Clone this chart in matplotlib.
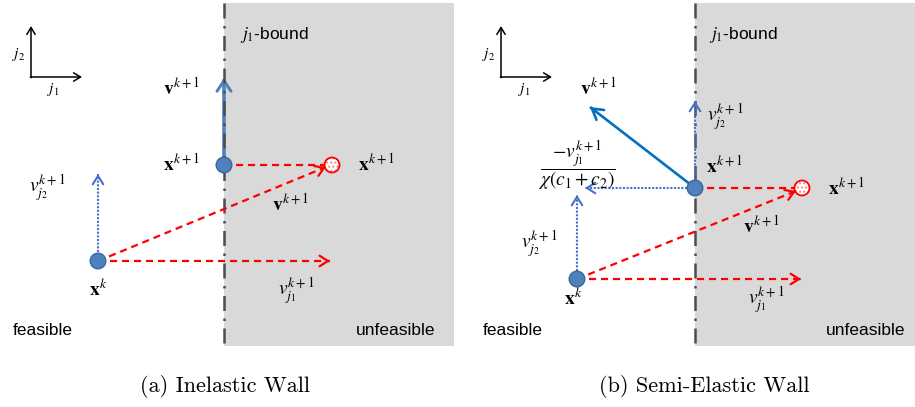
import numpy as np
import matplotlib.pyplot as plt
from matplotlib.patches import Rectangle, Circle

plt.rcParams['font.family'] = 'Liberation Sans'
plt.rcParams['mathtext.fontset'] = 'stix'
plt.rcParams['hatch.linewidth'] = 0.9

# %%
# geometry of the two sketches, in pixel units (y grows downwards)
panels = ["a", "b"]
wall_x = [224, 695]
shade_right = [454, 915]
shade_top, shade_bottom = 3, 346
icon_origin = [(31, 77), (501, 77)]
icon_len = [51, 51]
xk = [(98, 261), (577, 279)]
xk1 = [(224, 165), (695, 188)]
xk1_out = [(332, 165), (802, 188)]
vj1_tip = [(330, 261), (801, 279)]
vk1_red_tip = [(326, 167), (796, 191)]
vk1_new_tip = [(224, 78), (590, 107)]
vj2_dot = [((98, 252), (98, 174)), ((577, 271), (577, 195))]
# semi-elastic only: reflected component and kept j2 component
refl_dot = ((687, 188), (585, 188))
up_dot = ((695, 180), (695, 101))

captions = ["(a) Inelastic Wall", "(b) Semi-Elastic Wall"]
caption_x = [225, 704]
caption_y = 386

# labels: text, left x, baseline y
labels_a = [
    (r"$j_2$", 12, 58, 11),
    (r"$j_1$", 47, 93, 11),
    (r"$j_1$-bound", 240, 39, 12.5),
    (r"$\mathbf{v}^{k+1}$", 163, 95, 14),
    (r"$\mathbf{x}^{k+1}$", 163, 171, 14),
    (r"$\mathbf{x}^{k+1}$", 358, 171, 14),
    (r"$v_{j_2}^{k+1}$", 29, 193, 14),
    (r"$\mathbf{v}^{k+1}$", 272, 211, 14),
    (r"$\mathbf{x}^{k}$", 89, 296, 14),
    (r"$v_{j_1}^{k+1}$", 278, 296, 14),
    ("feasible", 13, 335, 12.5),
    ("unfeasible", 356, 335, 12.5),
]
labels_b = [
    (r"$j_2$", 482, 58, 11),
    (r"$j_1$", 518, 93, 11),
    (r"$j_1$-bound", 709, 39, 12.5),
    (r"$\mathbf{v}^{k+1}$", 580, 95, 14),
    (r"$v_{j_2}^{k+1}$", 707, 122, 14),
    (r"$\mathbf{x}^{k+1}$", 706, 173, 14),
    (r"$\mathbf{x}^{k+1}$", 828, 195, 14),
    (r"$\mathbf{v}^{k+1}$", 743, 233, 14),
    (r"$v_{j_2}^{k+1}$", 521, 249, 14),
    (r"$\mathbf{x}^{k}$", 564, 305, 14),
    (r"$v_{j_1}^{k+1}$", 748, 305, 14),
    ("feasible", 483, 335, 12.5),
    ("unfeasible", 826, 335, 12.5),
]
frac_label = r"$\dfrac{-v_{j_1}^{k+1}}{\chi(c_1+c_2)}$"
frac_pos = (577, 165)

gray = "#d9d9d9"
wall_col = "#4d4d4d"
red = "#ff0000"
pink = "#ff7a7a"
blue_dot = "#4472c4"
pt_fill = "#4f81bd"
pt_edge = "#3a679c"


def head(ax, tail, tip, color, lw, hl=0.6, hw=0.38, z=4):
    ax.annotate("", xy=tip, xytext=tail,
                arrowprops=dict(arrowstyle=f"->,head_length={hl},head_width={hw}",
                                color=color, lw=lw, shrinkA=0, shrinkB=0,
                                mutation_scale=10), zorder=z)


def styled_arrow(ax, start, end, color, lw, dashes, z=3, tip=True, **kw):
    ax.plot([start[0], end[0]], [start[1], end[1]], color=color, lw=lw,
            dashes=dashes, zorder=z, solid_capstyle="butt", dash_capstyle="butt")
    if tip:
        d = np.array(end, float) - np.array(start, float)
        d /= np.linalg.norm(d)
        tail = np.array(end) - 2 * d
        head(ax, tuple(tail), end, color, lw, z=z, **kw)


# %%
fig = plt.figure(figsize=(9.15, 4.07), dpi=100)
ax = fig.add_axes([0, 0, 1, 1])
ax.set_xlim(0, 915)
ax.set_ylim(407, 0)
ax.axis("off")

for i, p in enumerate(panels):
    wx = wall_x[i]
    ax.add_patch(Rectangle((wx, shade_top), shade_right[i] - wx, shade_bottom - shade_top,
                           facecolor=gray, edgecolor="none", zorder=0))
    ax.plot([wx, wx], [shade_top, shade_bottom], color=wall_col, lw=1.8,
            dashes=(6, 3, 1, 3), zorder=2.5)

    # little j1/j2 axes icon
    ox, oy = icon_origin[i]
    L = icon_len[i]
    head(ax, (ox, oy + 0.7), (ox, oy - L), "black", 1.1, hl=0.5, hw=0.3)
    head(ax, (ox - 0.7, oy), (ox + L, oy), "black", 1.1, hl=0.5, hw=0.3)

    # red dashed original velocity
    styled_arrow(ax, xk[i], vj1_tip[i], red, 1.6, (3.2, 2.2))
    styled_arrow(ax, xk[i], vk1_red_tip[i], red, 1.6, (3.2, 2.2))
    styled_arrow(ax, xk1[i], (xk1_out[i][0] - 7, xk1_out[i][1]), red, 1.6, (3.2, 2.2), tip=False)

    # blue dotted j2 component at x^k
    s, e = vj2_dot[i]
    styled_arrow(ax, s, e, blue_dot, 1.5, (1, 0.75))

    # red unfeasible position, dotted fill
    ax.add_patch(Circle(xk1_out[i], 7.5, facecolor="white", edgecolor=pink, lw=0,
                        hatch="....", zorder=5))
    ax.add_patch(Circle(xk1_out[i], 7.5, facecolor="none", edgecolor=red, lw=1.3, zorder=5))

    lbls = labels_a if p == "a" else labels_b
    for txt, lx, ly, fs in lbls:
        ax.text(lx, ly, txt, fontsize=fs, ha="left", va="baseline", zorder=6)

# (a) inelastic: new velocity straight up along the wall
ax.plot([xk1[0][0], vk1_new_tip[0][0]], [xk1[0][1], vk1_new_tip[0][1] + 3],
        color=pt_fill, lw=2.6, zorder=1.5, solid_capstyle="butt")
head(ax, (vk1_new_tip[0][0], vk1_new_tip[0][1] + 3), vk1_new_tip[0], pt_fill, 2.2,
     hl=0.75, hw=0.5, z=1.5)

# (b) semi-elastic: reflected velocity
ax.plot([xk1[1][0], vk1_new_tip[1][0]], [xk1[1][1], vk1_new_tip[1][1]],
        color="#0070c0", lw=1.9, zorder=3, solid_capstyle="butt")
d = np.array(vk1_new_tip[1], float) - np.array(xk1[1], float)
d /= np.linalg.norm(d)
head(ax, tuple(np.array(vk1_new_tip[1]) - 2 * d), vk1_new_tip[1], "#0070c0", 1.9,
     hl=0.75, hw=0.45)
styled_arrow(ax, refl_dot[0], refl_dot[1], blue_dot, 1.5, (1, 0.75))
styled_arrow(ax, up_dot[0], up_dot[1], blue_dot, 1.5, (1, 0.75))
ax.text(frac_pos[0], frac_pos[1], frac_label, fontsize=14, ha="center", va="center", zorder=6)

# blue current positions
for pts in (xk, xk1):
    for c in pts:
        ax.add_patch(Circle(c, 7.8, facecolor=pt_fill, edgecolor=pt_edge, lw=1.0, zorder=5))

for i in range(2):
    ax.text(caption_x[i], caption_y, captions[i], fontsize=16, family="cmr10",
            ha="center", va="center")

fig.savefig("out.png", dpi=100)
